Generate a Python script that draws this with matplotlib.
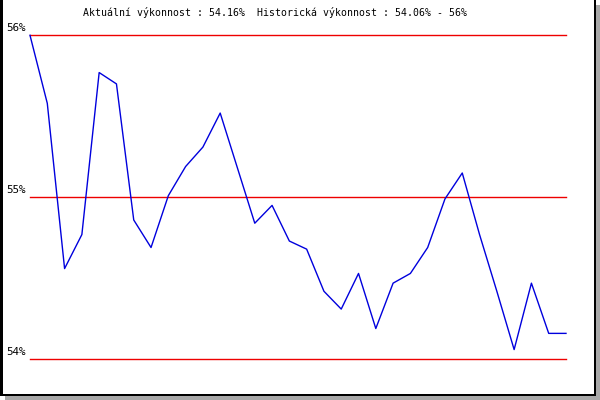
import matplotlib
matplotlib.use("Agg")
import matplotlib.pyplot as plt
from matplotlib.patches import Rectangle

# performance values (%), one point per period
values = [56.00, 55.58, 54.56, 54.77, 55.77, 55.70, 54.86, 54.69,
          55.01, 55.19, 55.31, 55.52, 55.18, 54.84, 54.95, 54.73,
          54.68, 54.42, 54.31, 54.53, 54.19, 54.47, 54.53, 54.69,
          54.99, 55.15, 54.77, 54.42, 54.06, 54.47, 54.16, 54.16]
levels = [54, 55, 56]
level_labels = ["54%", "55%", "56%"]
title = "Aktuální výkonnost : 54.16%  Historická výkonnost : 54.06% - 56%"

W, H = 600, 400
fig = plt.figure(figsize=(6, 4), dpi=100)
fig.patch.set_facecolor("white")

# background / frame in pixel coordinates
bg = fig.add_axes([0, 0, 1, 1])
bg.set_xlim(0, W)
bg.set_ylim(H, 0)
bg.axis("off")
bg.add_patch(Rectangle((596, 5), 4, 395, color="#a8a8a8", lw=0))
bg.add_patch(Rectangle((5, 396), 595, 4, color="#a8a8a8", lw=0))
bg.add_patch(Rectangle((0, 0), 3, 396, color="black", lw=0))
bg.add_patch(Rectangle((593.5, 0), 2.5, 396, color="black", lw=0))
bg.add_patch(Rectangle((0, 393.5), 596, 2.5, color="black", lw=0))
bg.text(275, 13, title, family="DejaVu Sans Mono", fontsize=7.1,
        ha="center", va="center", color="black")

# data area: x 30..566 px, y 359 (54%) .. 35 (56%)
x0, x1, ytop, ybot = 30, 566, 35.3, 359.3
ax = fig.add_axes([x0 / W, (H - ybot) / H, (x1 - x0) / W, (ybot - ytop) / H])
ax.set_xlim(0, len(values) - 1)
ax.set_ylim(min(levels), max(levels))
ax.axis("off")
for lv, lab in zip(levels, level_labels):
    ax.axhline(lv, color="#ee0000", lw=1.0, clip_on=False)
    ax.annotate(lab, xy=(0, lv), xytext=(-3, 2), textcoords="offset points",
                ha="right", va="bottom", family="DejaVu Sans Mono",
                fontsize=7.8, color="black", annotation_clip=False)
ax.plot(range(len(values)), values, color="#0000dd", lw=1.0, clip_on=False)

fig.savefig("out.png", dpi=100)
